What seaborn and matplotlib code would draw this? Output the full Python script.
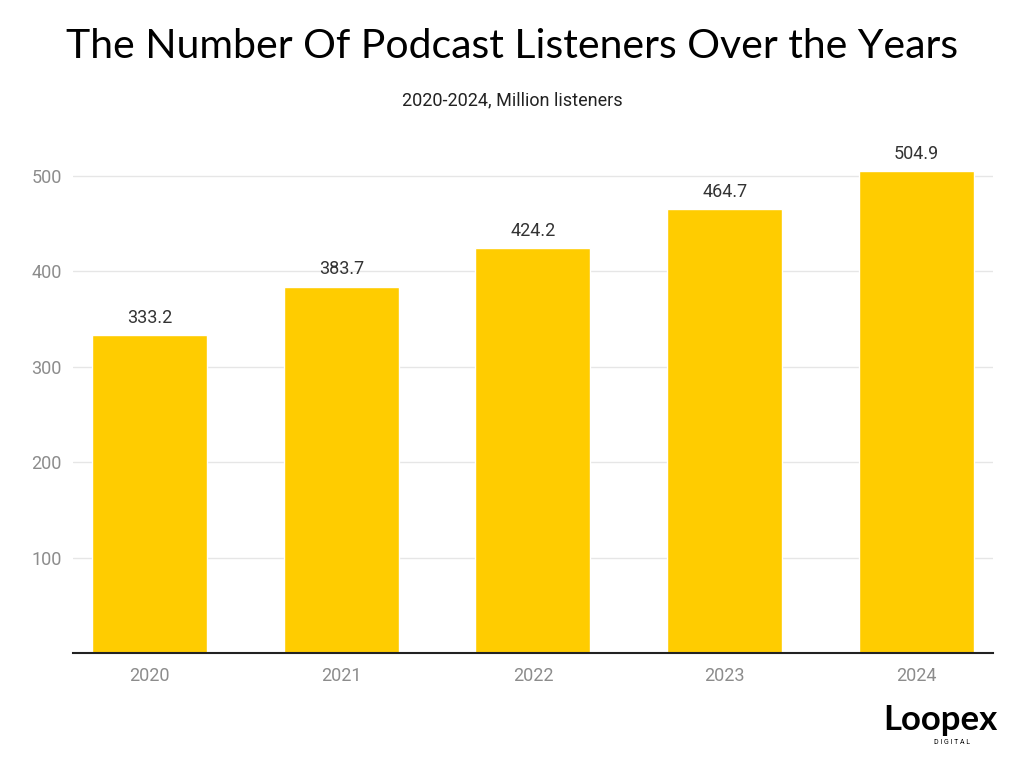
import pandas as pd
import seaborn as sns
import matplotlib.pyplot as plt

years = ['2020', '2021', '2022', '2023', '2024']
listeners = [333.2, 383.7, 424.2, 464.7, 504.9]
yticks = [100, 200, 300, 400, 500]

df = pd.DataFrame({'Year': years, 'Listeners': listeners})

sns.set_style('white')
plt.rcParams['font.family'] = ['Roboto', 'DejaVu Sans']

fig = plt.figure(figsize=(10.24, 7.68), dpi=100)
ax = fig.add_axes([0.0713, 0.1497, 0.8984, 0.659])

sns.barplot(data=df, x='Year', y='Listeners', color='#FFCC00', saturation=1,
            width=0.6, ax=ax)

ax.set_xlim(-0.4, 4.4)
ax.set_ylim(0, 530)
ax.set_yticks(yticks)
ax.yaxis.grid(True, color='#e6e6e6', linewidth=1)
ax.set_axisbelow(True)
ax.set_xlabel('')
ax.set_ylabel('')
for s in ['top', 'right', 'left']:
    ax.spines[s].set_visible(False)
ax.spines['bottom'].set_color('#222222')
ax.spines['bottom'].set_linewidth(1.5)
ax.tick_params(axis='both', length=0, labelsize=13, labelcolor='#8c8c8c')
ax.tick_params(axis='y', pad=8)
ax.tick_params(axis='x', pad=10)

for i, v in enumerate(listeners):
    ax.annotate(f'{v:.1f}', (i, v), xytext=(0, 6), textcoords='offset points',
                ha='center', va='bottom', fontsize=13, color='#333333')

fig.text(0.5, 0.939, 'The Number Of Podcast Listeners Over the Years',
         ha='center', va='center', fontsize=29.5, color='black',
         family=['Lato', 'DejaVu Sans'])
fig.text(0.5, 0.869, '2020-2024, Million listeners', ha='center', va='center',
         fontsize=13, color='#222222')

# logo
fig.text(0.918, 0.062, 'Loopex', ha='center', va='center', fontsize=25,
         fontweight='bold', color='black', family=['Lato', 'DejaVu Sans'])
fig.text(0.93, 0.033, 'D I G I T A L', ha='center', va='center', fontsize=5,
         color='black')

fig.savefig('out.png', dpi=100)
